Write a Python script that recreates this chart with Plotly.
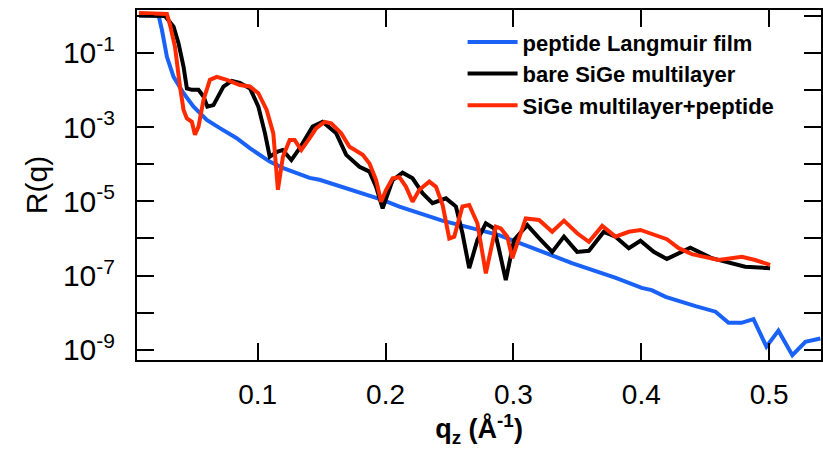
import plotly.graph_objects as go

# peptide Langmuir film
q_blue = [0.0072, 0.0225, 0.0251, 0.029, 0.0342, 0.042, 0.0498, 0.0602, 0.0704, 0.0836, 0.0938,
          0.1094, 0.1195, 0.1406, 0.1484, 0.1692, 0.1975, 0.2108, 0.2342, 0.2443, 0.2888, 0.3356,
          0.3457, 0.38, 0.4003, 0.4081, 0.419, 0.4424, 0.458, 0.4682, 0.4783, 0.4877, 0.4978,
          0.5072, 0.5181, 0.5283, 0.54]
logR_blue = [0.0, 0.0, -0.39, -1.11, -1.65, -2.09, -2.45, -2.81, -3.03, -3.30, -3.57,
             -3.93, -4.10, -4.37, -4.42, -4.65, -4.96, -5.14, -5.41, -5.52, -5.91, -6.53,
             -6.66, -7.06, -7.33, -7.39, -7.57, -7.82, -7.97, -8.27, -8.27, -8.17, -8.91,
             -8.48, -9.14, -8.78, -8.69]

# bare SiGe multilayer
q_black = [0.0072, 0.0275, 0.0342, 0.0381, 0.042, 0.0446, 0.0485, 0.0537, 0.0576, 0.0606, 0.0654,
           0.0732, 0.0797, 0.086, 0.094, 0.1005, 0.1057, 0.1094, 0.1156, 0.1195, 0.1263, 0.1328,
           0.1429, 0.1507, 0.1614, 0.1692, 0.1796, 0.1874, 0.1926, 0.1977, 0.2055, 0.2133, 0.2211,
           0.2289, 0.2367, 0.2472, 0.255, 0.2601, 0.2654, 0.2718, 0.2784, 0.2849, 0.2888, 0.294,
           0.3005, 0.3108, 0.32, 0.3303, 0.3395, 0.3498, 0.359, 0.3707, 0.3798, 0.3902, 0.3993,
           0.4097, 0.42, 0.4383, 0.4551, 0.4708, 0.4812, 0.5007]
logR_black = [0.0, -0.01, -0.30, -0.75, -1.38, -1.96, -2.00, -2.00, -2.18, -2.45, -2.41,
              -1.91, -1.76, -1.81, -1.96, -2.45, -3.17, -3.80, -3.66, -3.62, -3.89, -3.57,
              -2.99, -2.86, -3.17, -3.75, -4.07, -4.20, -4.61, -5.19, -4.43, -4.23, -4.38,
              -4.78, -5.05, -4.92, -5.14, -5.86, -6.80, -6.04, -5.59, -5.73, -6.31, -7.12,
              -6.04, -5.64, -5.99, -6.36, -5.95, -6.36, -6.33, -5.82, -5.95, -6.26, -6.06,
              -6.36, -6.55, -6.25, -6.53, -6.67, -6.76, -6.80]

# SiGe multilayer + peptide
q_red = [0.0072, 0.029, 0.0314, 0.0353, 0.0392, 0.042, 0.0446, 0.0485, 0.0509, 0.0537, 0.0576,
         0.0626, 0.068, 0.0758, 0.086, 0.0938, 0.1005, 0.107, 0.1122, 0.1158, 0.1197, 0.125,
         0.1289, 0.1341, 0.1406, 0.1458, 0.1523, 0.1575, 0.1653, 0.1718, 0.1821, 0.1874, 0.1926,
         0.1965, 0.2004, 0.2055, 0.2108, 0.216, 0.2211, 0.2264, 0.2342, 0.2394, 0.2446, 0.2498,
         0.2537, 0.2601, 0.2654, 0.2718, 0.2784, 0.2862, 0.2901, 0.2952, 0.2991, 0.3044, 0.3096,
         0.32, 0.3303, 0.3395, 0.3498, 0.359, 0.3694, 0.3798, 0.3902, 0.3993, 0.4083, 0.42,
         0.4292, 0.4396, 0.4604, 0.4786, 0.489, 0.5007]
logR_red = [0.07, 0.04, -0.25, -0.84, -1.91, -2.54, -2.77, -2.86, -3.21, -2.99, -2.27,
            -1.73, -1.65, -1.73, -1.87, -1.91, -2.09, -2.54, -3.17, -4.69, -3.80, -3.35,
            -3.35, -3.62, -3.30, -3.03, -2.86, -2.90, -3.17, -3.53, -3.75, -3.98, -4.43,
            -5.01, -4.69, -4.38, -4.35, -4.61, -5.01, -4.69, -4.47, -4.61, -5.10, -6.00,
            -5.95, -5.14, -5.10, -5.59, -6.94, -5.68, -5.73, -5.95, -6.53, -5.99, -5.46,
            -5.50, -5.82, -5.52, -5.86, -6.09, -5.66, -5.95, -5.82, -5.77, -5.88, -6.02,
            -6.26, -6.42, -6.58, -6.49, -6.58, -6.71]

names = ["peptide Langmuir film", "bare SiGe multilayer", "SiGe multilayer+peptide"]
colors = ["#1a62f5", "#000000", "#ff2a00"]

label_exps = [-9, -7, -5, -3, -1]
tick_only_exps = [-8, -6, -4, -2, 0]
x_tickvals = [0.1, 0.2, 0.3, 0.4, 0.5]
x_ticktext = ["0.1", "0.2", "0.3", "0.4", "0.5"]

FONT = "Liberation Sans, Arial, sans-serif"
X_RANGE = [0.0056, 0.5405]
Y_RANGE = [-9.27, 0.149]

fig = go.Figure()
for q, lr, name, c in [(q_blue, logR_blue, names[0], colors[0]),
                       (q_black, logR_black, names[1], colors[1]),
                       (q_red, logR_red, names[2], colors[2])]:
    fig.add_trace(go.Scatter(x=q, y=[10.0 ** v for v in lr], mode="lines", name=name,
                             line=dict(color=c, width=4)))

# invisible trace holding the secondary (tick-only) y axis
fig.add_trace(go.Scatter(x=[q_blue[0]], y=[10.0 ** logR_blue[0]], yaxis="y2", mode="lines",
                         line=dict(width=0), showlegend=False, hoverinfo="skip"))

tick_style = dict(ticks="inside", ticklen=17, tickwidth=2, tickcolor="black",
                  showline=True, linecolor="black", linewidth=2, mirror="ticks",
                  showgrid=False, zeroline=False)

fig.update_layout(
    width=823, height=463,
    margin=dict(l=137, r=0, t=10, b=103),
    plot_bgcolor="white", paper_bgcolor="white",
    font=dict(family=FONT, color="black"),
    showlegend=True,
    legend=dict(x=0.476, y=0.968, xanchor="left", yanchor="top",
                bgcolor="rgba(0,0,0,0)", font=dict(size=22, weight="bold"),
                itemwidth=50, tracegroupgap=0),
    xaxis=dict(range=X_RANGE, tickvals=x_tickvals, ticktext=x_ticktext,
               tickfont=dict(size=28), ticklabelstandoff=8,
               title=dict(text="<b>q<sub>z</sub> (Å<sup>-1</sup>)</b>", font=dict(size=27), standoff=8),
               **tick_style),
    yaxis=dict(type="log", range=Y_RANGE,
               tickvals=[10.0 ** e for e in label_exps],
               ticktext=["10<sup>%d</sup>" % e for e in label_exps],
               tickfont=dict(size=30), ticklabelstandoff=14,
               title=dict(text="R(q)", font=dict(size=30), standoff=6),
               **tick_style),
    yaxis2=dict(type="log", range=Y_RANGE, overlaying="y", side="left",
                tickvals=[10.0 ** e for e in tick_only_exps], showticklabels=False,
                **tick_style),
)
fig.write_html("out.html")
